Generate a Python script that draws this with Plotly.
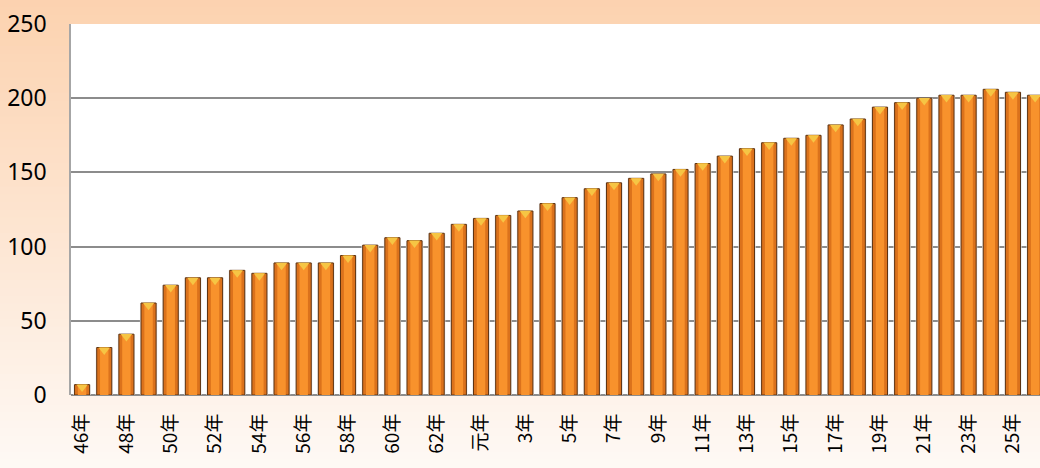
import plotly.graph_objects as go

# ---- data ----
categories = (
    [f"{y}年" for y in range(46, 64)]
    + ["元年"]
    + [f"{y}年" for y in range(2, 27)]
)
values = [
    7, 32, 41, 62, 74, 79, 79, 84, 82, 89, 89, 89, 94,
    101, 106, 104, 109, 115, 119, 121, 124, 129, 133, 139, 143, 146,
    149, 152, 156, 161, 166, 170, 173, 175, 182, 186, 194, 197, 200,
    202, 202, 206, 204, 202,
]
tick_labels = categories[::2]
y_ticks = [0, 50, 100, 150, 200, 250]

# ---- styling ----
W, H = 1040, 468
ML, MR, MT, MB = 71, 0, 24, 73
plot_w = W - ML - MR
plot_h = H - MT - MB

font_family = "Noto Sans CJK JP, Noto Sans, sans-serif"

fig = go.Figure()

# faint shadow hugging each bar
fig.add_trace(go.Bar(
    x=categories, y=values, width=0.78,
    marker=dict(color="#E9E9E9", line=dict(width=0)),
    hoverinfo="skip", showlegend=False,
))
# main bar body
fig.add_trace(go.Bar(
    x=categories, y=values, width=0.68,
    marker=dict(color="#DB721C", line=dict(color="#5E3210", width=1)),
    showlegend=False,
))
# lighter centre highlight
fig.add_trace(go.Bar(
    x=categories, y=values, width=0.38,
    marker=dict(color="#F8922C", line=dict(width=0)),
    hoverinfo="skip", showlegend=False,
))
# yellow bevel on top of each bar
fig.add_trace(go.Scatter(
    x=categories, y=[v - 1.6 for v in values], mode="markers",
    marker=dict(symbol="triangle-down", size=10, color="#F6C544",
                line=dict(width=0)),
    hoverinfo="skip", showlegend=False,
))

# background vertical gradient (paper coords)
shapes = []
n = 60
top_c = (252, 210, 175)
bot_c = (254, 249, 245)
y_top = 1 + MT / plot_h
y_bot = -MB / plot_h
x_left = -ML / plot_w
for i in range(n):
    t = (i + 0.5) / n
    c = tuple(round(top_c[k] + (bot_c[k] - top_c[k]) * t) for k in range(3))
    y1 = y_top - (y_top - y_bot) * i / n
    y0 = y_top - (y_top - y_bot) * (i + 1) / n
    shapes.append(dict(
        type="rect", xref="paper", yref="paper",
        x0=x_left, x1=1.01, y0=y0 - 0.002, y1=y1 + 0.002,
        fillcolor="rgb(%d,%d,%d)" % c, line=dict(width=0), layer="below",
    ))
shapes.append(dict(
    type="rect", xref="paper", yref="paper", x0=0, x1=1, y0=0, y1=1,
    fillcolor="white", line=dict(width=0), layer="below",
))

fig.update_layout(
    width=W, height=H,
    margin=dict(l=ML, r=MR, t=MT, b=MB, pad=0),
    barmode="overlay",
    paper_bgcolor="rgb(254,240,230)",
    plot_bgcolor="white",
    shapes=shapes,
    font=dict(family=font_family, color="#000000"),
    showlegend=False,
)
fig.update_xaxes(
    type="category",
    categoryorder="array", categoryarray=categories,
    range=[-0.5, len(categories) - 0.78],
    tickmode="array", tickvals=tick_labels, ticktext=tick_labels,
    tickangle=-90,
    tickfont=dict(size=19, family=font_family, color="#000000"),
    ticks="outside", ticklen=10, tickcolor="rgba(0,0,0,0)",
    showgrid=False, showline=False, zeroline=False,
)
fig.update_yaxes(
    range=[0, 250],
    tickmode="array", tickvals=y_ticks,
    tickfont=dict(size=23, family="Noto Sans, sans-serif", color="#000000"),
    ticks="outside", ticklen=18, tickcolor="rgba(0,0,0,0)",
    showgrid=True, gridcolor="#8C8C8C", gridwidth=1.5,
    showline=True, linecolor="#A6A6A6", linewidth=1.5,
    zeroline=True, zerolinecolor="#8C8C8C", zerolinewidth=1.5,
)

fig.write_html(
    "out.html",
    config={"displayModeBar": False},
    post_script="document.body.style.margin='0';document.body.style.overflow='hidden';",
)
